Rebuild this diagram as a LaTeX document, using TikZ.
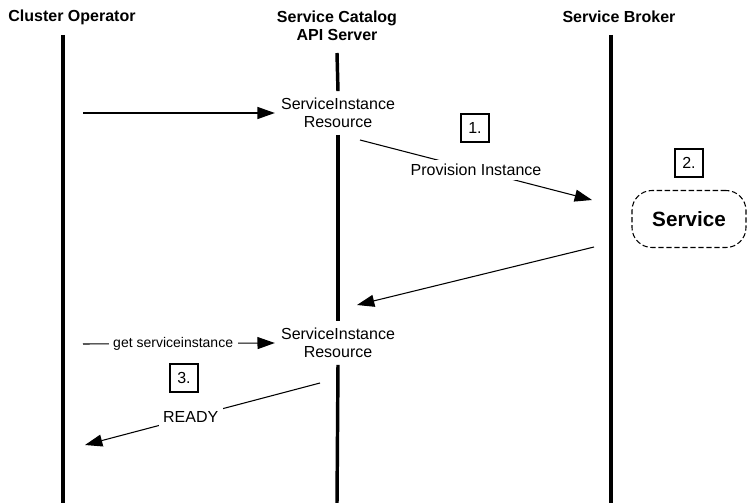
\documentclass[tikz,border=0pt]{standalone}
\usepackage{fontspec}
\setmainfont{Liberation Sans}
\usetikzlibrary{arrows.meta,shapes}

\begin{document}
\begin{tikzpicture}[x=0.75pt,y=-0.75pt,
  font=\fontsize{12}{13.5}\selectfont,
  life/.style={line width=2.6pt},
  msg/.style={-{Triangle[length=13pt,width=9pt]},line width=0.8pt},
  head/.style={font=\fontsize{12}{13.5}\selectfont\bfseries,align=center},
  res/.style={align=center,inner xsep=4.5pt,inner ysep=5pt},
  numbox/.style={draw,line width=0.8pt,minimum size=21pt,inner sep=0pt}]
\useasboundingbox (0,0) rectangle (747,503);
% lifeline heads
\node[head] (CO) at (72,17) {Cluster Operator};
\node[head] (SC) at (337,26) {Service Catalog\\API Server};
\node[head] (SB) at (619,17) {Service Broker};
% resource nodes on the catalog line
\node[res] (SIR1) at (338,113) {ServiceInstance\\Resource};
\node[res] (SIR2) at (338,343) {ServiceInstance\\Resource};
\node[numbox] (N1) at (475,128) {1.};
\node[numbox] (N2) at (689,163) {2.};
\node[numbox] (N3) at (184,378) {3.};
\node[draw,dashed,dash pattern=on 4pt off 2pt,line width=0.8pt,rounded corners=15pt,
  minimum width=85.5pt,minimum height=42.75pt,font=\fontsize{15.5}{17}\selectfont\bfseries] (SVC) at (689,219) {Service};
% lifelines
\draw[life] (63,35) -- (63,503);
\draw[life] (337,53) -- (SIR1.north);
\draw[life] (SIR1.south) -- (SIR2.north);
\draw[life] (SIR2.south) -- (337,503);
\draw[life] (611,35) -- (611,503);
% message ends
\coordinate (op1) at (83,113);
\coordinate (pv1) at (360,140);
\coordinate (pv2) at (592,200);
\coordinate (bk1) at (594,247);
\coordinate (bk2) at (357,305);
\coordinate (op2) at (83,344);
\coordinate (rd1) at (320,383);
\coordinate (rd2) at (85,445);
% messages
\draw[msg] (op1) -- (SIR1.west);
\draw[msg] (pv1) -- (pv2) node[midway,fill=white] {Provision Instance};
\draw[msg] (bk1) -- (bk2);
\draw[msg] (op2) -- (SIR2.west) node[pos=0.47,fill=white,font=\fontsize{10.5}{12}\selectfont] {get serviceinstance};
\draw[msg] (rd1) -- (rd2) node[pos=0.55,fill=white] {READY};
\end{tikzpicture}
\end{document}
